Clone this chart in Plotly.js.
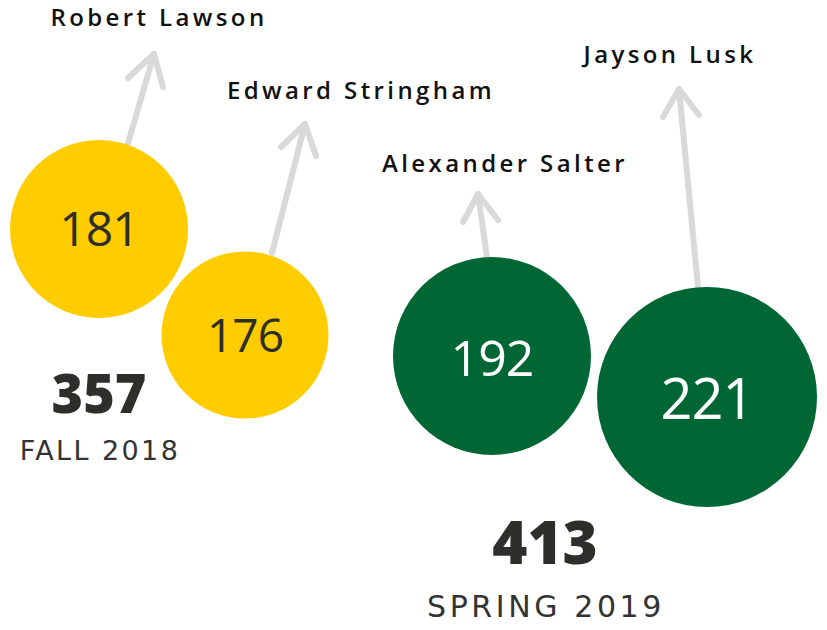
<!DOCTYPE html>
<html>
<head>
<meta charset="utf-8">
<script src="https://cdn.plot.ly/plotly-3.0.1.min.js"></script>
<style>
  html, body { margin: 0; padding: 0; background: #ffffff; }
  #chart { width: 827px; height: 630px; }
  path.js-line { stroke-linecap: round; stroke-linejoin: round; }
</style>
</head>
<body>
<div id="chart"></div>
<script>
// ---- DATA ----
var names = ["Robert Lawson", "Edward Stringham", "Alexander Salter", "Jayson Lusk"];
var values = [181, 176, 192, 221];
var semesterOf = [0, 0, 1, 1];
var semesters = ["FALL 2018", "SPRING 2019"];
var totals = [357, 413];

// ---- LAYOUT CONFIG (pixel positions on an 827x630 canvas) ----
var circleCX = [99, 245, 492, 707];
var circleCY = [229, 335, 356, 397];
var circleD = [178, 167, 198, 220];
var numberDY = [5, 5, 7, 8];
var numberFontSize = [48, 46, 50, 56];
var numberColor = ["#2e2e2a", "#2e2e2a", "#ffffff", "#ffffff"];
var semesterColor = ["#FFCC00", "#006633"];

var arrowBase = [[126, 150], [272, 253], [487, 257], [698, 287]];
var arrowTip = [[154, 54], [305, 124], [478, 194], [679, 89]];
var arrowLeft = [[128, 78], [281, 147], [463, 222], [663, 117]];
var arrowRight = [[163, 87], [316, 156], [498, 220], [699, 115]];

var nameCX = [159, 361, 505, 670];
var nameCY = [20, 93, 166, 57];

var totalCX = [99, 545];
var totalCY = [399, 549];
var totalSize = [54, 60];
var semCX = [100, 546];
var semCY = [453, 609];
var semSize = [27, 30];
var semSpacing = [2.4, 3.6];

var traces = [];

// arrows
var ax = [], ay = [];
for (var i = 0; i < names.length; i++) {
  ax.push(arrowBase[i][0], arrowTip[i][0], null, arrowLeft[i][0], arrowTip[i][0], arrowRight[i][0], null);
  ay.push(arrowBase[i][1], arrowTip[i][1], null, arrowLeft[i][1], arrowTip[i][1], arrowRight[i][1], null);
}
traces.push({
  type: "scatter", mode: "lines", x: ax, y: ay,
  line: { color: "#d9d9d9", width: 6 }, hoverinfo: "skip", showlegend: false
});

// circles
traces.push({
  type: "scatter", mode: "markers",
  x: circleCX, y: circleCY,
  marker: {
    size: circleD,
    sizemode: "diameter",
    color: semesterOf.map(function (s) { return semesterColor[s]; }),
    opacity: 1,
    line: { width: 0 }
  },
  hoverinfo: "skip", showlegend: false
});

// values inside circles
traces.push({
  type: "scatter", mode: "text",
  x: circleCX, y: circleCY.map(function (c, k) { return c + numberDY[k]; }),
  text: values.map(function (v) { return '<span style="letter-spacing:-1px">' + v + '</span>'; }),
  textposition: "middle center",
  textfont: { family: "Open Sans, DejaVu Sans, sans-serif", size: numberFontSize, color: numberColor },
  hoverinfo: "skip", showlegend: false
});

// names
traces.push({
  type: "scatter", mode: "text",
  x: nameCX, y: nameCY,
  text: names.map(function (n) { return '<span style="letter-spacing:3.4px">' + n + '</span>'; }),
  textposition: "middle center",
  textfont: { family: "Open Sans, DejaVu Sans, sans-serif", size: 24, color: "#111111", weight: 600 },
  hoverinfo: "skip", showlegend: false
});

// totals
traces.push({
  type: "scatter", mode: "text",
  x: totalCX, y: totalCY,
  text: totals.map(String),
  textposition: "middle center",
  textfont: { family: "Open Sans, DejaVu Sans, sans-serif", size: totalSize, color: "#2e2e2a", weight: 800 },
  hoverinfo: "skip", showlegend: false
});

// semester labels
traces.push({
  type: "scatter", mode: "text",
  x: semCX, y: semCY,
  text: semesters.map(function (s, k) { return '<span style="letter-spacing:' + semSpacing[k] + 'px">' + s + '</span>'; }),
  textposition: "middle center",
  textfont: { family: "DejaVu Sans, sans-serif", size: semSize, color: "#333333" },
  hoverinfo: "skip", showlegend: false
});

var layout = {
  width: 827, height: 630,
  margin: { l: 0, r: 0, t: 0, b: 0, pad: 0 },
  paper_bgcolor: "#ffffff", plot_bgcolor: "#ffffff",
  xaxis: { range: [0, 827], visible: false, fixedrange: true },
  yaxis: { range: [630, 0], visible: false, fixedrange: true },
  showlegend: false
};

Plotly.newPlot("chart", traces, layout, { displayModeBar: false, staticPlot: true });
</script>
</body>
</html>
